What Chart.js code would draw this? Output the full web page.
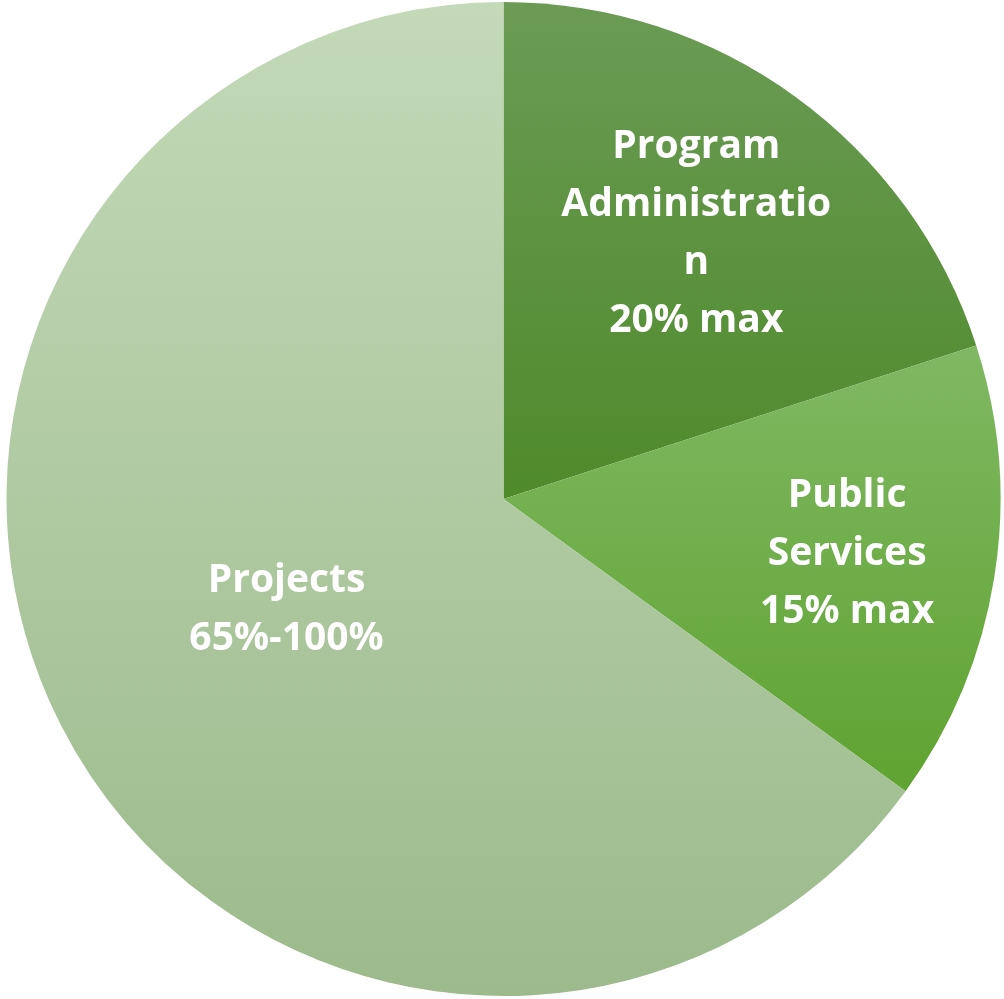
<!DOCTYPE html>
<html>
<head>
<meta charset="utf-8">
<script src="https://cdn.jsdelivr.net/npm/chart.js@4.4.1/dist/chart.umd.min.js"></script>
<style>
  html, body { margin: 0; padding: 0; background: #fff; }
  #wrap { width: 1004px; height: 999px; }
</style>
</head>
<body>
<div id="wrap"><canvas id="pie"></canvas></div>
<script>
const categories = ['Program Administration', 'Public Services', 'Projects'];
const shares = [20, 15, 65];
const labelLines = [
  ['Program', 'Administratio', 'n', '20% max'],
  ['Public', 'Services', '15% max'],
  ['Projects', '65%-100%']
];
const topColors = ['#6b9b55', '#80b863', '#c3d9b8'];
const bottomColors = ['#4f8a2b', '#5fa331', '#9cba8c'];

// label distance from centre, as a fraction of the radius (Excel best fit look)
const labelRadius = [0.66, 0.70, 0.49];

function sliceGradient(ctx) {
  const chart = ctx.chart;
  const i = ctx.dataIndex;
  const area = chart.chartArea;
  if (!area) return topColors[i];
  const cx = (area.left + area.right) / 2;
  const cy = (area.top + area.bottom) / 2;
  const r = Math.min(area.right - area.left, area.bottom - area.top) / 2;
  const total = shares.reduce((a, b) => a + b, 0);
  let before = 0;
  for (let k = 0; k < i; k++) before += shares[k];
  const a0 = -Math.PI / 2 + before / total * Math.PI * 2;
  const a1 = a0 + shares[i] / total * Math.PI * 2;
  const ys = [cy, cy + r * Math.sin(a0), cy + r * Math.sin(a1)];
  if (a0 <= Math.PI / 2 && a1 >= Math.PI / 2) ys.push(cy + r);
  if (a1 >= Math.PI * 1.5) ys.push(cy - r);
  const y0 = Math.min(...ys);
  const y1 = Math.max(...ys);
  const g = chart.ctx.createLinearGradient(0, y0, 0, y1);
  g.addColorStop(0, topColors[i]);
  g.addColorStop(1, bottomColors[i]);
  return g;
}

const sliceLabels = {
  id: 'sliceLabels',
  afterDatasetsDraw(chart) {
    const ctx = chart.ctx;
    const meta = chart.getDatasetMeta(0);
    ctx.save();
    ctx.fillStyle = '#ffffff';
    ctx.font = 'bold 39px "Open Sans", Lato, sans-serif';
    ctx.textAlign = 'center';
    ctx.textBaseline = 'middle';
    const lineH = 58;
    meta.data.forEach((arc, i) => {
      const mid = (arc.startAngle + arc.endAngle) / 2;
      const rr = arc.outerRadius * labelRadius[i];
      const x = arc.x + Math.cos(mid) * rr;
      const y = arc.y + Math.sin(mid) * rr;
      const lines = labelLines[i];
      const startY = y - (lines.length - 1) * lineH / 2;
      lines.forEach((t, j) => ctx.fillText(t, x, startY + j * lineH));
    });
    ctx.restore();
  }
};

new Chart(document.getElementById('pie'), {
  type: 'pie',
  data: {
    labels: categories,
    datasets: [{
      data: shares,
      backgroundColor: sliceGradient,
      borderWidth: 0
    }]
  },
  options: {
    responsive: true,
    maintainAspectRatio: false,
    animation: false,
    layout: { padding: { top: 2, bottom: 3, left: 3, right: 0 } },
    plugins: {
      legend: { display: false },
      tooltip: { enabled: false }
    }
  },
  plugins: [sliceLabels]
});
</script>
</body>
</html>
